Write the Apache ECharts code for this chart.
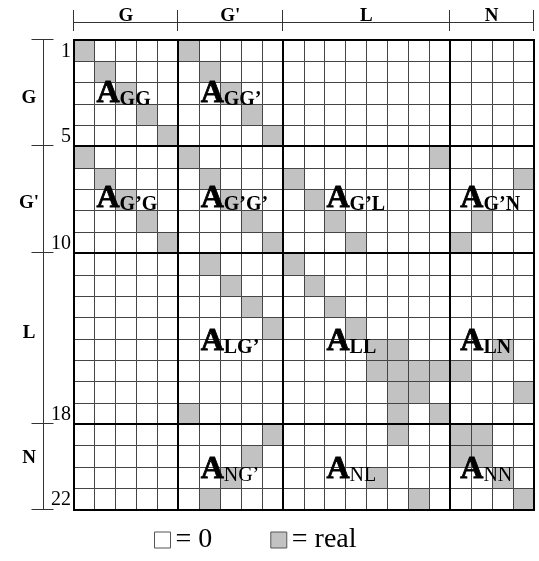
<!DOCTYPE html>
<html>
<head>
<meta charset="utf-8">
<script src="https://cdn.jsdelivr.net/npm/echarts@6/dist/echarts.min.js"></script>
<style>
  html, body { margin: 0; padding: 0; background: #fff; }
  #chart { width: 539px; height: 561px; }
</style>
</head>
<body>
<div id="chart"></div>
<script>
// Block structure of the matrix (rows and columns share the same partition)
const groupNames = ['G', "G'", 'L', 'N'];
const subscriptNames = ['G', 'G\u2019', 'L', 'N'];
const groupSizes = [5, 5, 8, 4];

// Row numbers written beside the matrix
const rowTicks = [1, 5, 10, 18, 22];

// Real (nonzero) entries: for rows 1..22, the columns holding a real value
const realColumns = [
  [1, 6],
  [2, 7],
  [3, 8],
  [4, 9],
  [5, 10],
  [1, 6, 18],
  [2, 7, 11, 22],
  [3, 8, 12],
  [4, 9, 13, 20],
  [5, 10, 14, 19],
  [7, 11],
  [8, 12],
  [9, 13],
  [10, 14],
  [15, 16, 21],
  [15, 16, 17, 18, 19],
  [16, 17, 22],
  [6, 16, 18],
  [10, 16, 19, 20],
  [9, 19, 20],
  [8, 15, 21],
  [7, 17, 22]
];

// Named sub-blocks A_xy as [row group, column group]
const blocks = [
  [0, 0], [0, 1],
  [1, 0], [1, 1], [1, 2], [1, 3],
  [2, 1], [2, 2], [2, 3],
  [3, 1], [3, 2], [3, 3]
];

const legendNames = ['= 0', '= real'];

// ---- layout (in matrix units) ----
const blockLabelLeft = [1.1, 6.08, 12.1, 18.5];      // per column group
const blockLabelBase = [2.97, 7.89, 14.57, 20.54];   // per row group
const groupLabelRow = [2.74, 7.65, 13.72, 19.6];     // per row group

const SERIF = "'Liberation Serif', 'Times New Roman', 'DejaVu Serif', serif";
const N = groupSizes.reduce((a, b) => a + b, 0);
const bounds = [0];
groupSizes.forEach(s => bounds.push(bounds[bounds.length - 1] + s));

const zeroCells = [], realCells = [];
for (let r = 1; r <= N; r++) {
  for (let c = 1; c <= N; c++) {
    (realColumns[r - 1].includes(c) ? realCells : zeroCells).push([c, r]);
  }
}

const crisp = v => Math.round(v) + 0.5;

function renderCell(params, api) {
  const a = api.coord([api.value(0) - 1, api.value(1) - 1]);
  const b = api.coord([api.value(0), api.value(1)]);
  const x0 = crisp(a[0]), y0 = crisp(a[1]), x1 = crisp(b[0]), y1 = crisp(b[1]);
  return {
    type: 'rect',
    shape: { x: x0, y: y0, width: x1 - x0, height: y1 - y0 },
    style: { fill: api.visual('color'), stroke: '#444', lineWidth: 1 }
  };
}

function renderBlockLine(params, api) {
  const v = api.value(0);
  const p = api.coord([v, v]);
  const s = api.coord([0, 0]);
  const e = api.coord([N, N]);
  const x = Math.round(p[0]), y = Math.round(p[1]);
  const style = { stroke: '#000', lineWidth: 2 };
  return {
    type: 'group',
    children: [
      { type: 'line', shape: { x1: x, y1: Math.round(s[1]) - 1, x2: x, y2: Math.round(e[1]) + 1 }, style },
      { type: 'line', shape: { x1: Math.round(s[0]) - 1, y1: y, x2: Math.round(e[0]) + 1, y2: y }, style }
    ]
  };
}

const chart = echarts.init(document.getElementById('chart'), null, { renderer: 'canvas' });

const hiddenAxis = {
  type: 'value', min: 0, max: N, interval: 1,
  axisLine: { show: false }, axisTick: { show: false },
  axisLabel: { show: false }, splitLine: { show: false }
};

chart.setOption({
  animation: false,
  backgroundColor: '#fff',
  grid: { left: 73.5, top: 39.5, width: 460, height: 470 },
  xAxis: Object.assign({}, hiddenAxis),
  yAxis: Object.assign({ inverse: true }, hiddenAxis),
  legend: {
    left: 154, top: 526, padding: 0,
    itemWidth: 16, itemHeight: 16, itemGap: 58,
    icon: 'rect',
    data: [
      { name: legendNames[0], itemStyle: { color: '#fff', borderColor: '#555', borderWidth: 1 } },
      { name: legendNames[1], itemStyle: { color: '#c2c2c2', borderColor: '#555', borderWidth: 1 } }
    ],
    textStyle: { fontFamily: SERIF, fontSize: 28, color: '#000' },
    selectedMode: false
  },
  series: [
    { name: legendNames[0], type: 'custom', renderItem: renderCell, data: zeroCells,
      itemStyle: { color: '#fff', borderColor: '#555', borderWidth: 1 }, silent: true },
    { name: legendNames[1], type: 'custom', renderItem: renderCell, data: realCells,
      itemStyle: { color: '#c2c2c2', borderColor: '#555', borderWidth: 1 }, silent: true },
    { name: 'blocks', type: 'custom', renderItem: renderBlockLine, data: bounds.map(b => [b]), silent: true }
  ]
});

// Annotations around the matrix, placed through the grid's coordinate system
const px = (x, y) => chart.convertToPixel({ gridIndex: 0 }, [x, y]);
const graphics = [];
const lineStyle = { stroke: '#333', lineWidth: 1 };

// top header: bracket line with ticks at the block boundaries
const topY = 22.5;
const hx0 = px(0, 0)[0], hx1 = px(N, 0)[0];
graphics.push({ type: 'line', shape: { x1: hx0, y1: topY, x2: hx1, y2: topY }, style: lineStyle });
bounds.forEach(b => {
  const x = crisp(px(b, 0)[0]) - 1;
  graphics.push({ type: 'line', shape: { x1: x, y1: 10, x2: x, y2: 31 }, style: lineStyle });
});
groupNames.forEach((g, i) => {
  const cx = (px(bounds[i], 0)[0] + px(bounds[i + 1], 0)[0]) / 2;
  graphics.push({ type: 'text', x: cx, y: 16,
    style: { text: g, font: 'bold 19px ' + SERIF, fill: '#000', textAlign: 'center', textVerticalAlign: 'middle' } });
});

// left side: vertical bracket with ticks, group names and row numbers
const sideX = 43.5;
graphics.push({ type: 'line', shape: { x1: sideX, y1: px(0, 0)[1], x2: sideX, y2: px(0, N)[1] }, style: lineStyle });
bounds.forEach(b => {
  const y = crisp(px(0, b)[1]) - 1;
  graphics.push({ type: 'line', shape: { x1: 31.5, y1: y, x2: 53.5, y2: y }, style: lineStyle });
});
groupNames.forEach((g, i) => {
  graphics.push({ type: 'text', x: 29, y: px(0, groupLabelRow[i])[1],
    style: { text: g, font: 'bold 19px ' + SERIF, fill: '#000', textAlign: 'center', textVerticalAlign: 'middle' } });
});
rowTicks.forEach(r => {
  graphics.push({ type: 'text', x: 71, y: px(0, r - 0.45)[1],
    style: { text: String(r), font: '20px ' + SERIF, fill: '#000', textAlign: 'right', textVerticalAlign: 'middle' } });
});

// block names A_xy written inside the matrix, above the cells
blocks.forEach(([ri, ci]) => {
  const p = px(blockLabelLeft[ci], blockLabelBase[ri]);
  graphics.push({ type: 'text', x: p[0], y: p[1] + 7, z: 100,
    style: {
      text: '{a|A}{s|' + subscriptNames[ri] + subscriptNames[ci] + '}',
      textAlign: 'left', textVerticalAlign: 'bottom',
      rich: {
        a: { font: 'bold 32px ' + SERIF, fill: '#000', stroke: '#000', lineWidth: 0.8,
             lineHeight: 32, verticalAlign: 'bottom' },
        s: { font: (ri === 3 ? '' : 'bold ') + '20px ' + SERIF, fill: '#000', lineHeight: 20, verticalAlign: 'bottom' }
      }
    } });
});

chart.setOption({ graphic: graphics });
</script>
</body>
</html>
